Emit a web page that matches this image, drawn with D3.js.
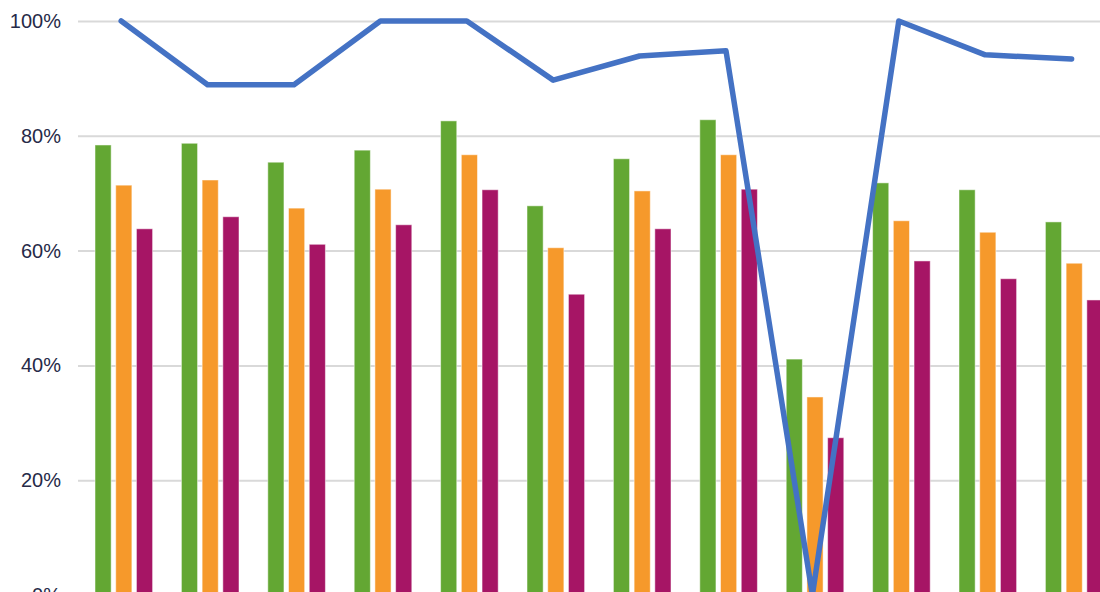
<!DOCTYPE html>
<html>
<head>
<meta charset="utf-8">
<script src="https://cdnjs.cloudflare.com/ajax/libs/d3/7.8.5/d3.min.js"></script>
<style>
  body { margin: 0; background: #fff; overflow: hidden; }
  .grid line { stroke: #d9d9d9; stroke-width: 2; }
  .grid .domain { display: none; }
  .axis text { font-family: "Liberation Sans", Arial, sans-serif; font-size: 20px; fill: #262a48; }
  .axis .domain, .axis line { display: none; }
</style>
</head>
<body>
<script>
(function (){

    //chart data
    var categories = ["1","2","3","4","5","6","7","8","9","10","11","12"];
    var seriesNames = ["A","B","C"];
    var seriesA = [78.4, 78.7, 75.4, 77.5, 82.6, 67.8, 76.0, 82.8, 41.1, 71.8, 70.6, 65.0];
    var seriesB = [71.4, 72.3, 67.4, 70.7, 76.7, 60.5, 70.4, 76.7, 34.5, 65.2, 63.2, 57.8];
    var seriesC = [63.8, 65.9, 61.1, 64.5, 70.6, 52.4, 63.8, 70.7, 27.4, 58.2, 55.1, 51.4];
    var lineValues = [100, 88.9, 88.9, 100, 100, 89.7, 93.9, 94.8, 0, 100, 94.1, 93.4];
    var yTicks = [0, 20, 40, 60, 80, 100];
    var colors = ["#63a733", "#f6992b", "#a61565"];

    //frame dimensions
    var width = 1100,
        height = 592,
        left = 78,
        step = 86.4,
        top = 21,
        zeroY = 595;

    var svg = d3.select("body")
        .append("svg")
        .attr("width", width)
        .attr("height", height);

    var x = d3.scaleBand()
        .domain(categories)
        .range([left, left + step * categories.length])
        .paddingInner(0)
        .paddingOuter(0);

    var x1 = d3.scaleBand()
        .domain(seriesNames)
        .range([17, 17 + 3 * 19.2])
        .paddingInner(0.22);

    var y = d3.scaleLinear()
        .domain([0, 100])
        .range([zeroY, top]);

    //gridlines
    svg.append("g")
        .attr("class", "grid")
        .attr("transform", "translate(" + left + ",0)")
        .call(d3.axisLeft(y).tickValues(yTicks).tickSize(-(width - left)).tickFormat(""));

    //tick labels
    svg.append("g")
        .attr("class", "axis")
        .attr("transform", "translate(61,0)")
        .call(d3.axisLeft(y).tickValues(yTicks).tickSize(0).tickPadding(0)
            .tickFormat(function(d){ return d + "%"; }));

    //bars
    var rows = categories.map(function(c, i){
        return { cat: c, vals: [seriesA[i], seriesB[i], seriesC[i]] };
    });

    var groups = svg.selectAll(".group")
        .data(rows)
        .enter()
        .append("g")
        .attr("class", "group")
        .attr("transform", function(d){ return "translate(" + x(d.cat) + ",0)"; });

    groups.selectAll("rect")
        .data(function(d){
            return d.vals.map(function(v, j){ return { s: seriesNames[j], v: v, j: j }; });
        })
        .enter()
        .append("rect")
        .attr("x", function(d){ return x1(d.s); })
        .attr("width", x1.bandwidth())
        .attr("y", function(d){ return y(d.v); })
        .attr("height", function(d){ return zeroY - y(d.v); })
        .style("fill", function(d){ return colors[d.j]; })
        .style("stroke", "rgba(255,255,255,0.5)")
        .style("stroke-width", 1);

    //line
    var line = d3.line()
        .x(function(d, i){ return x(categories[i]) + x.bandwidth() / 2; })
        .y(function(d){ return y(d); });

    svg.append("path")
        .datum(lineValues)
        .attr("d", line)
        .style("fill", "none")
        .style("stroke", "#4472c4")
        .style("stroke-width", 5.5)
        .style("stroke-linejoin", "round")
        .style("stroke-linecap", "round");

})();
</script>
</body>
</html>
